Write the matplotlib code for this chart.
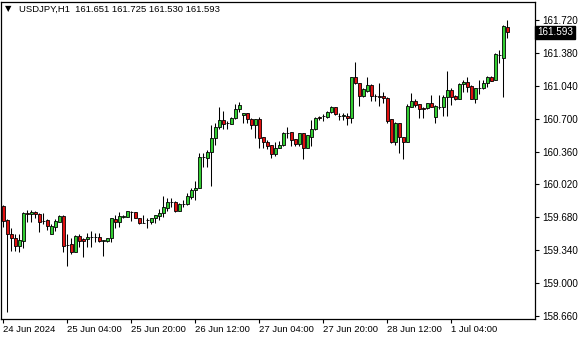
import matplotlib
matplotlib.use("Agg")
import matplotlib.pyplot as plt
import matplotlib.transforms as mtransforms

# USDJPY H1 candles, first bar 24 Jun 2024 12:00
opens = [159.797, 159.653, 159.505, 159.467, 159.387, 159.439, 159.725, 159.712, 159.732, 159.712,
         159.642, 159.653, 159.505, 159.583, 159.635, 159.697, 159.394, 159.401, 159.325, 159.490,
         159.456, 159.453, 159.477, 159.477, 159.474, 159.439, 159.436, 159.464, 159.663, 159.635,
         159.687, 159.681, 159.738, 159.732, 159.670, 159.625, 159.653, 159.635, 159.670, 159.697,
         159.722, 159.780, 159.836, 159.836, 159.749, 159.818, 159.818, 159.893, 159.960, 159.980,
         160.301, 160.297, 160.352, 160.497, 160.611, 160.686, 160.652, 160.642, 160.704, 160.797,
         160.738, 160.756, 160.694, 160.635, 160.694, 160.508, 160.456, 160.428, 160.332, 160.400,
         160.428, 160.555, 160.559, 160.490, 160.435, 160.549, 160.400, 160.514, 160.593, 160.714,
         160.725, 160.720, 160.766, 160.818, 160.731, 160.731, 160.728, 160.704, 161.128, 161.066,
         160.937, 160.986, 161.048, 160.937, 160.931, 160.934, 160.911, 160.694, 160.462, 160.652,
         160.514, 160.462, 160.824, 160.886, 160.849, 160.807, 160.807, 160.865, 160.720, 160.824,
         160.818, 160.921, 160.997, 160.934, 160.900, 161.059, 161.083, 161.038, 160.900, 161.014,
         161.014, 161.066, 161.134, 161.100, 161.358, 161.330, 161.651]
highs = [159.808, 159.663, 159.570, 159.508, 159.508, 159.738, 159.756, 159.756, 159.746, 159.722,
         159.722, 159.663, 159.608, 159.663, 159.704, 159.704, 159.505, 159.464, 159.498, 159.508,
         159.464, 159.515, 159.539, 159.515, 159.515, 159.446, 159.470, 159.676, 159.704, 159.738,
         159.704, 159.746, 159.746, 159.735, 159.673, 159.704, 159.676, 159.670, 159.704, 159.763,
         159.901, 159.883, 159.877, 159.852, 159.828, 159.859, 159.929, 159.980, 160.056, 160.342,
         160.342, 160.376, 160.634, 160.652, 160.818, 160.779, 160.676, 160.720, 160.852, 160.869,
         160.762, 160.762, 160.704, 160.700, 160.714, 160.511, 160.480, 160.428, 160.456, 160.469,
         160.559, 160.617, 160.566, 160.490, 160.552, 160.552, 160.531, 160.686, 160.717, 160.731,
         160.745, 160.779, 160.831, 160.821, 160.755, 160.755, 160.755, 161.134, 161.289, 161.066,
         161.014, 161.134, 161.055, 160.952, 161.066, 160.973, 160.921, 160.697, 160.663, 160.655,
         160.514, 160.849, 160.969, 160.901, 160.849, 160.824, 160.865, 160.945, 160.842, 160.945,
         160.945, 161.193, 161.014, 160.945, 161.072, 161.100, 161.134, 161.048, 161.014, 161.100,
         161.100, 161.141, 161.141, 161.376, 161.410, 161.668, 161.725]
lows = [159.580, 158.701, 159.335, 159.335, 159.322, 159.366, 159.635, 159.635, 159.677, 159.532,
        159.608, 159.549, 159.505, 159.539, 159.635, 159.325, 159.180, 159.301, 159.325, 159.377,
        159.273, 159.370, 159.370, 159.428, 159.422, 159.284, 159.422, 159.428, 159.567, 159.583,
        159.670, 159.681, 159.645, 159.670, 159.608, 159.618, 159.573, 159.608, 159.618, 159.653,
        159.687, 159.749, 159.790, 159.738, 159.749, 159.790, 159.808, 159.867, 159.856, 159.980,
        160.204, 160.204, 160.004, 160.428, 160.590, 160.593, 160.590, 160.642, 160.693, 160.772,
        160.658, 160.658, 160.590, 160.497, 160.394, 160.400, 160.384, 160.297, 160.314, 160.400,
        160.421, 160.503, 160.421, 160.418, 160.418, 160.280, 160.400, 160.418, 160.583, 160.686,
        160.676, 160.710, 160.755, 160.738, 160.686, 160.686, 160.635, 160.652, 161.059, 160.834,
        160.927, 160.979, 160.886, 160.883, 160.834, 160.859, 160.658, 160.449, 160.428, 160.348,
        160.280, 160.462, 160.818, 160.824, 160.704, 160.704, 160.797, 160.824, 160.652, 160.797,
        160.728, 160.728, 160.842, 160.893, 160.900, 160.979, 160.979, 160.900, 160.865, 160.955,
        161.004, 161.031, 161.093, 161.100, 161.272, 160.921, 161.530]
closes = [159.642, 159.508, 159.464, 159.387, 159.446, 159.722, 159.715, 159.732, 159.712, 159.629,
          159.639, 159.594, 159.594, 159.642, 159.697, 159.387, 159.391, 159.325, 159.487, 159.436,
          159.436, 159.477, 159.479, 159.472, 159.439, 159.441, 159.464, 159.670, 159.635, 159.694,
          159.689, 159.746, 159.736, 159.670, 159.618, 159.624, 159.652, 159.670, 159.704, 159.725,
          159.784, 159.836, 159.834, 159.749, 159.818, 159.816, 159.901, 159.963, 159.980, 160.301,
          160.303, 160.352, 160.497, 160.611, 160.686, 160.642, 160.650, 160.704, 160.797, 160.841,
          160.756, 160.694, 160.635, 160.694, 160.497, 160.456, 160.421, 160.332, 160.400, 160.428,
          160.549, 160.553, 160.480, 160.435, 160.549, 160.400, 160.531, 160.593, 160.710, 160.712,
          160.723, 160.766, 160.818, 160.748, 160.729, 160.733, 160.704, 161.134, 161.066, 160.937,
          161.004, 161.048, 160.937, 160.935, 160.929, 160.911, 160.679, 160.462, 160.652, 160.508,
          160.462, 160.834, 160.886, 160.842, 160.797, 160.805, 160.859, 160.824, 160.831, 160.822,
          160.921, 160.997, 160.927, 160.900, 161.059, 161.083, 161.031, 160.900, 161.014, 161.012,
          161.072, 161.134, 161.093, 161.369, 161.356, 161.658, 161.593]

time_labels = ["24 Jun 2024", "25 Jun 04:00", "25 Jun 20:00", "26 Jun 12:00",
               "27 Jun 04:00", "27 Jun 20:00", "28 Jun 12:00", "1 Jul 04:00"]
price_ticks = [158.660, 159.000, 159.340, 159.680, 160.020, 160.360, 160.700, 161.040, 161.380, 161.720]
header = "USDJPY,H1  161.651 161.725 161.530 161.593"

FONT = "Liberation Sans"
plt.rcParams["font.family"] = [FONT, "DejaVu Sans"]

fig = plt.figure(figsize=(5.8, 3.4), dpi=100)
ax = fig.add_axes([1 / 580, 21 / 340, 534 / 580, 317 / 340])

idx = list(range(len(opens)))
up_col = "#32cd32"
dn_col = "#e01010"

# wicks
ax.vlines(idx, lows, highs, color="black", linewidth=0.75, zorder=2)
# bodies
bottoms = [min(o, c) for o, c in zip(opens, closes)]
heights = [abs(c - o) for o, c in zip(opens, closes)]
colors = [up_col if c >= o else dn_col for o, c in zip(opens, closes)]
ax.bar(idx, heights, bottom=bottoms, width=0.68, color=colors,
       edgecolor="black", linewidth=0.6, zorder=3)

# half pixel shift so bars sit on pixel centres
ax.set_xlim(-0.625, 132.875)
ax.set_ylim(158.629, 161.906)

for s in ax.spines.values():
    s.set_color("black")
    s.set_linewidth(0.9)

ax.yaxis.tick_right()
ax.set_yticks(price_ticks)
ax.set_yticklabels(["%.3f" % p for p in price_ticks])
ax.tick_params(axis="y", direction="out", length=3, width=0.8, pad=2,
               labelsize=7.1, colors="black")

xt = [16 * k for k in range(len(time_labels))]
ax.set_xticks(xt)
ax.set_xticklabels(time_labels, ha="left")
ax.tick_params(axis="x", direction="out", length=3, width=0.8, pad=1.5,
               labelsize=6.8, colors="black")

# current price box
trans = mtransforms.blended_transform_factory(ax.transAxes, ax.transData)
ax.text(1.004, closes[-1], "%.3f" % closes[-1], transform=trans, color="white",
        fontsize=7.1, va="center", ha="left",
        bbox=dict(boxstyle="square,pad=0.18", facecolor="black", edgecolor="black"))

# header
fig.text(5 / 580, 1 - 9 / 340, "\u25bc", fontsize=6, va="center", ha="left",
         family="DejaVu Sans", color="black")
fig.text(19 / 580, 1 - 9 / 340, header, fontsize=6.8, va="center", ha="left",
         color="black")

fig.savefig("out.png", dpi=100)
